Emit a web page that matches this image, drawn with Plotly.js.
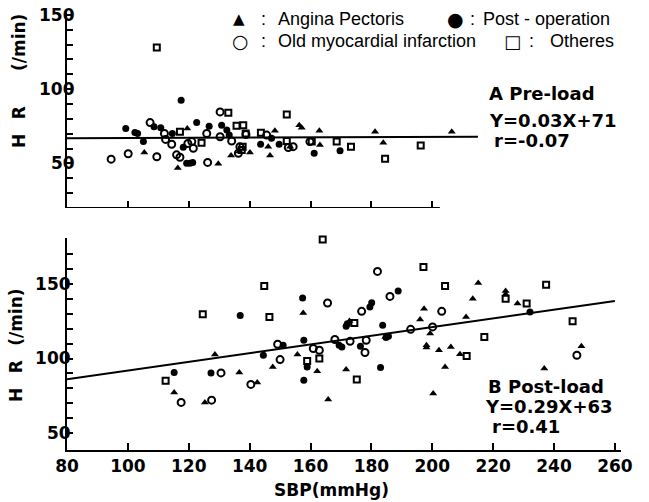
<!DOCTYPE html>
<html>
<head>
<meta charset="utf-8">
<script src="https://cdn.plot.ly/plotly-3.0.1.min.js"></script>
<style>html,body{margin:0;padding:0;background:#fff;}#chart{width:649px;height:502px;}</style>
</head>
<body>
<div id="chart"></div>
<script>
// ---------- DATA: Panel A (Pre-load) ----------
var preAnginaX = [105.4,116.4,119.5,129.7,133.9,136.6,140.1,146.7,148.3,146.1,153.3,156.3,157.1,162.9,163.1,181.2,183.9,206.4];
var preAnginaY = [57.3,46.9,73.5,49.8,55.3,58.0,57.3,55.3,72.0,61.3,61.3,75.8,74.0,72.0,62.5,71.3,64.0,71.3];
var prePostOpX = [99.3,102.3,103.2,105.1,108.6,110.8,114.6,117.5,118.2,119.3,120.4,121.3,122.6,126.7,130.8,132.5,133.3,143.6,147.2,149.7,161.2,169.7];
var prePostOpY = [73.5,70.9,70.2,64.7,74.7,74.0,70.2,92.5,60.9,50.2,50.2,50.7,77.5,75.1,75.8,72.5,69.1,62.9,66.9,62.9,56.9,58.5];
var preOldMIX = [94.5,100.1,107.3,109.5,112.0,112.4,114.4,116.0,117.1,119.7,121.0,121.5,125.9,126.2,130.3,130.3,134.1,138.8,136.3,136.8,145.6,152.7,154.3,159.8];
var preOldMIY = [52.9,56.5,77.5,54.5,70.2,66.2,62.9,55.8,54.2,63.5,64.7,60.2,70.2,50.7,68.0,84.7,65.1,69.5,56.9,61.3,69.1,60.7,61.3,64.7];
var preOtherX = [109.5,117.1,124.2,133.0,135.7,137.9,137.7,137.4,138.7,143.7,152.2,152.2,160.4,168.6,173.3,184.5,196.2];
var preOtherY = [128.0,71.3,64.0,84.2,75.3,75.8,61.3,59.1,70.2,70.7,82.9,65.1,64.7,64.7,61.3,53.1,62.0];
var preFitX = [80, 215];
var preFitY = [67, 68];

// ---------- DATA: Panel B (Post-load) ----------
var postAnginaX = [115.2,125.3,128.6,136.6,142.5,147.6,155.7,157.6,162.2,165.8,171.7,172.8,184.6,196.0,197.3,198.1,198.1,199.3,200.3,202.2,204.2,206.1,209.1,211.1,213.3,215.1,224.1,224.1,228.0,236.8,249.0];
var postAnginaY = [77.3,70.7,102.7,90.7,84.0,94.4,102.7,130.4,91.5,72.7,92.7,125.1,114.4,126.0,133.3,108.9,107.3,116.7,76.7,105.5,94.4,107.7,102.9,127.7,140.0,150.4,145.1,143.0,136.7,93.3,108.2];
var postPostOpX = [115.2,127.3,136.9,144.5,151.0,157.4,157.8,158.9,157.8,169.4,170.3,171.7,172.1,176.4,179.5,180.1,183.0,183.7,184.8,185.6,188.8,232.1];
var postPostOpY = [90.7,90.4,128.7,102.2,108.9,140.4,112.2,94.4,85.5,108.9,107.7,121.5,123.3,108.2,134.4,137.3,94.0,122.2,114.0,114.9,145.1,131.1];
var postOldMIX = [117.5,127.5,130.6,140.4,149.2,150.0,160.9,162.9,165.6,168.0,173.0,176.8,177.9,178.3,182.0,186.1,192.9,200.1,203.1,247.5];
var postOldMIY = [70.7,72.2,90.4,82.7,109.5,99.3,106.7,105.5,137.1,112.7,111.5,131.5,104.0,112.2,158.2,141.5,119.5,121.1,131.5,102.2];
var postOtherX = [112.4,124.6,144.8,146.5,158.9,162.9,164.0,174.4,175.2,197.1,204.2,211.3,217.1,224.1,231.0,237.4,246.1];
var postOtherY = [85.1,129.5,148.4,127.7,98.4,100.0,179.5,123.7,86.0,161.1,148.4,101.7,114.4,140.0,136.7,149.3,124.9];
var postFitX = [80, 260];
var postFitY = [86.2, 138.4];

// ---------- TICKS ----------
var xTickVals = [80,100,120,140,160,180,200,220,240,260];
var xTickText = ['80','100','120','140','160','180','200','220','240','260'];
var topXTickVals = [100,120,140,160,180,200];
var topYTickVals = [30,40,50,60,70,80,90,100,110,120,130,140,150];
var topYLabelVals = [50,100,150];
var topYLabelText = ['50','100','150'];
var botYTickVals = [50,60,70,80,90,100,110,120,130,140,150,160,170];
var botYTickText = ['50','','','','','100','','','','','150','',''];

// ---------- LAYOUT HELPERS ----------
var W = 649, H = 502, ML = 67, MR = 28, MT = 13, MB = 52;
var PW = W - ML - MR, PH = H - MT - MB;
function px(x){ return (x - ML) / PW; }
function py(y){ return (H - MB - y) / PH; }

var tickFont = {family: 'DejaVu Sans', size: 17, color: '#000', weight: 'bold'};
var legFont = {family: 'Liberation Sans', size: 18, color: '#000'};
var annFont = {family: 'DejaVu Sans', size: 18, color: '#000', weight: 'bold'};
var TC = '#000';

function mk(x, y, xa, ya, sym, size, lw){
  return {x: x, y: y, xaxis: xa, yaxis: ya, type: 'scatter', mode: 'markers', cliponaxis: false,
    marker: {symbol: sym, size: size, color: '#000', line: {color: '#000', width: lw}},
    showlegend: false, hoverinfo: 'skip'};
}

var traces = [
  {x: preFitX, y: preFitY, xaxis: 'x2', yaxis: 'y2', type: 'scatter', mode: 'lines', line: {color: '#000', width: 2}, showlegend: false},
  mk(preAnginaX, preAnginaY, 'x2', 'y2', 'triangle-up', 7, 0),
  mk(prePostOpX, prePostOpY, 'x2', 'y2', 'circle', 7, 0),
  mk(preOldMIX, preOldMIY, 'x2', 'y2', 'circle-open', 7, 2),
  mk(preOtherX, preOtherY, 'x2', 'y2', 'square-open', 6, 2),
  {x: postFitX, y: postFitY, xaxis: 'x', yaxis: 'y', type: 'scatter', mode: 'lines', line: {color: '#000', width: 2}, showlegend: false},
  mk(postAnginaX, postAnginaY, 'x', 'y', 'triangle-up', 7, 0),
  mk(postPostOpX, postPostOpY, 'x', 'y', 'circle', 7, 0),
  mk(postOldMIX, postOldMIY, 'x', 'y', 'circle-open', 7, 2),
  mk(postOtherX, postOtherY, 'x', 'y', 'square-open', 6, 2)
];

function ann(text, x, y, font, xanchor, extra){
  var a = {text: text, xref: 'paper', yref: 'paper', x: px(x), y: py(y), xanchor: xanchor || 'left', yanchor: 'middle', showarrow: false, font: font};
  if (extra) for (var k in extra) a[k] = extra[k];
  return a;
}

var titleFont = {family: 'DejaVu Sans', size: 17, color: '#000', weight: 'bold'};
var annotations = [
  ann('\u25B2', 239, 19, {family: 'DejaVu Sans', size: 15, color: '#000'}, 'center'),
  ann(':', 263, 19, legFont, 'center'),
  ann('Angina Pectoris', 276, 19, legFont),
  ann('\u25CF', 455, 19, {family: 'DejaVu Sans', size: 19, color: '#000'}, 'center'),
  ann(':', 472, 19, legFont, 'center'),
  ann('Post - operation', 481, 19, legFont),
  ann('\u25CB', 240, 41, {family: 'DejaVu Sans', size: 19, color: '#000'}, 'center'),
  ann(':', 263, 41, legFont, 'center'),
  ann('Old myocardial infarction', 276, 41, legFont),
  ann('\u25A1', 512, 41, {family: 'DejaVu Sans', size: 18, color: '#000'}, 'center'),
  ann(':', 531, 41, legFont, 'center'),
  ann('Otheres', 548, 41, legFont),
  ann('A Pre-load', 487, 94, annFont),
  ann('Y=0.03X+71', 487, 121, annFont),
  ann('r=-0.07', 492, 141, annFont),
  ann('B Post-load', 486, 386, annFont),
  ann('Y=0.29X+63', 483, 406, annFont),
  ann('r=0.41', 490, 426, annFont),
  ann('H\u2002 R', 19, 127, titleFont, 'center', {textangle: -90}),
  ann('(/min)', 19, 43, titleFont, 'center', {textangle: -90}),
  ann('H\u2002 R\u2002 (/min)', 16, 345, titleFont, 'center', {textangle: -90}),
  ann('SBP(mmHg)', 331, 490, titleFont, 'center')
];
// top panel y tick labels, placed on the y2 scale
topYLabelVals.forEach(function(v, i){
  annotations.push({text: topYLabelText[i], xref: 'paper', yref: 'y2', x: px(68), y: v, xshift: 9,
    xanchor: 'right', yanchor: 'middle', showarrow: false, font: tickFont});
});

var layout = {
  width: W, height: H,
  margin: {l: ML, r: MR, t: MT, b: MB},
  paper_bgcolor: '#fff', plot_bgcolor: 'rgba(0,0,0,0)',
  showlegend: false,
  xaxis: {domain: [0, 1], range: [80, 262], anchor: 'y', tickmode: 'array', tickvals: xTickVals, ticktext: xTickText,
    ticks: 'inside', ticklen: 7, tickwidth: 2, tickcolor: TC, showline: true, linewidth: 2, linecolor: '#000',
    showgrid: false, zeroline: false, tickfont: tickFont},
  yaxis: {domain: [0, py(238)], range: [38.9, 180.5], anchor: 'x', tickmode: 'array', tickvals: botYTickVals, ticktext: botYTickText,
    ticks: 'inside', ticklen: 6, tickwidth: 2, tickcolor: TC, showline: true, linewidth: 2, linecolor: '#000',
    showgrid: false, zeroline: false, tickfont: tickFont, ticklabelstandoff: -9},
  xaxis2: {domain: [0, 1], range: [80, 262], anchor: 'y2', tickmode: 'array', tickvals: topXTickVals,
    ticks: 'inside', ticklen: 7, tickwidth: 2, tickcolor: TC, showline: false, showticklabels: false,
    showgrid: false, zeroline: false},
  yaxis2: {domain: [py(208), py(11)], range: [20, 151.3], anchor: 'x2', tickmode: 'array', tickvals: topYTickVals,
    ticks: 'inside', ticklen: 6, tickwidth: 2, tickcolor: TC, showline: true, linewidth: 2, linecolor: '#000',
    showgrid: false, zeroline: false, showticklabels: false},
  shapes: [
    {type: 'line', xref: 'x2', yref: 'y2', x0: 80, x1: 202.5, y0: 20, y1: 20, line: {color: '#000', width: 2}}
  ],
  annotations: annotations
};

Plotly.newPlot('chart', traces, layout, {staticPlot: true, displayModeBar: false});
</script>
</body>
</html>
